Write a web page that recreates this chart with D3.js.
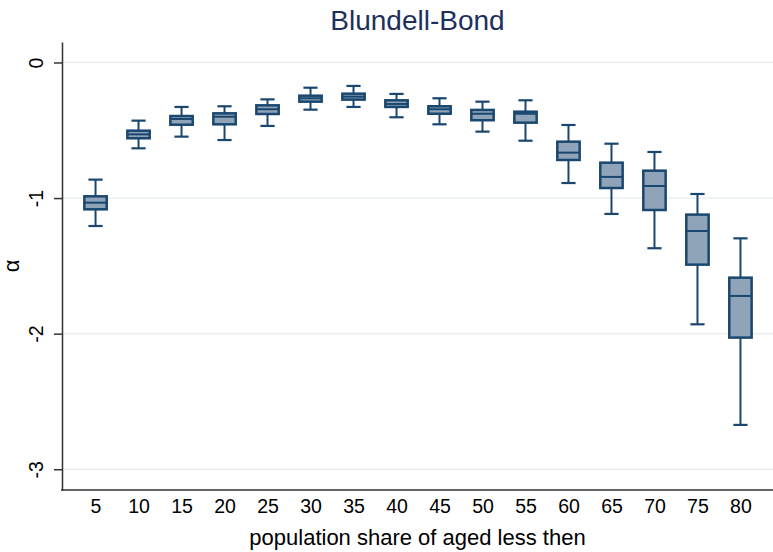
<!DOCTYPE html>
<html>
<head>
<meta charset="utf-8">
<script src="https://cdn.jsdelivr.net/npm/d3@7"></script>
<style>
  body { margin:0; background:#fff; }
  svg { display:block; font-family:"Liberation Sans", Arial, sans-serif; }
</style>
</head>
<body>
<svg id="chart" width="773" height="552"></svg>
<script>
// Data
var categories = [5, 10, 15, 20, 25, 30, 35, 40, 45, 50, 55, 60, 65, 70, 75, 80];
var whiskerHi = [-0.864, -0.429, -0.328, -0.323, -0.272, -0.186, -0.173, -0.232, -0.264, -0.289, -0.279, -0.461, -0.599, -0.660, -0.970, -1.297];
var q3        = [-0.987, -0.503, -0.395, -0.375, -0.316, -0.245, -0.230, -0.279, -0.323, -0.350, -0.363, -0.584, -0.739, -0.798, -1.122, -1.587];
var median    = [-1.034, -0.530, -0.417, -0.400, -0.345, -0.264, -0.252, -0.306, -0.345, -0.378, -0.378, -0.665, -0.844, -0.911, -1.243, -1.722];
var q1        = [-1.083, -0.559, -0.459, -0.456, -0.380, -0.289, -0.274, -0.328, -0.378, -0.426, -0.444, -0.719, -0.926, -1.088, -1.491, -2.029];
var whiskerLo = [-1.206, -0.633, -0.547, -0.572, -0.468, -0.348, -0.328, -0.404, -0.456, -0.510, -0.577, -0.889, -1.117, -1.370, -1.931, -2.673];
var yTicks = [0, -1, -2, -3];
var yDomain = [-3.153, 0.151];

var title = "Blundell-Bond";
var xTitle = "population share of aged less then";
var yTitle = "\u03b1";

// Dimensions
var dim = { left:62, right:774, top:42, bottom:490 };
var navy = "#1a476f";
var boxFill = "#8fa4b9";

var svg = d3.select("#chart");

var xScale = d3.scalePoint()
               .domain(categories)
               .range([dim.left, dim.right])
               .padding(0.78);
var yScale = d3.scaleLinear()
               .domain(yDomain)
               .range([dim.bottom, dim.top]);

var step = xScale.step();
var boxW = step * 0.52;
var capW = step * 0.33;

// gridlines
svg.append("g")
   .selectAll("line")
   .data(yTicks)
   .enter()
   .append("line")
   .attr("x1", dim.left)
   .attr("x2", 773)
   .attr("y1", function(d) { return yScale(d); })
   .attr("y2", function(d) { return yScale(d); })
   .attr("stroke", "#e9eff1")
   .attr("stroke-width", 1.5);

// y axis - plain hyphen for negatives, like the original
var yAxis = d3.axisLeft(yScale)
              .tickValues(yTicks)
              .tickFormat(function(d) { return String(d); })
              .tickSizeInner(8)
              .tickSizeOuter(0);
var gy = svg.append("g")
            .attr("transform", "translate(" + dim.left + ",0)")
            .call(yAxis);
gy.select(".domain").attr("stroke", "#333").attr("stroke-width", 1.5);
gy.selectAll(".tick line").attr("stroke", "#333").attr("stroke-width", 1.5);
gy.selectAll(".tick text")
  .attr("x", null).attr("dy", null)
  .attr("text-anchor", "middle")
  .attr("transform", "translate(-19,0) rotate(-90)")
  .style("font-size", "19.5px")
  .style("font-family", "Liberation Sans, Arial, sans-serif")
  .attr("fill", "#000");

// x axis
var xAxis = d3.axisBottom(xScale)
              .tickSize(0)
              .tickPadding(0);
var gx = svg.append("g")
            .attr("transform", "translate(0," + dim.bottom + ")")
            .call(xAxis);
gx.select(".domain").attr("d", "M" + (dim.left - 1) + ",0H773").attr("stroke", "#333").attr("stroke-width", 1.5);
gx.selectAll(".tick text")
  .attr("y", 23).attr("dy", null)
  .style("font-size", "19.5px")
  .style("font-family", "Liberation Sans, Arial, sans-serif")
  .attr("fill", "#000");

// boxes
var boxes = svg.append("g").attr("id", "boxes")
               .selectAll("g")
               .data(categories)
               .enter()
               .append("g")
               .attr("transform", function(d) { return "translate(" + xScale(d) + ",0)"; });

boxes.append("line")
     .attr("x1", 0).attr("x2", 0)
     .attr("y1", function(d, i) { return yScale(whiskerHi[i]); })
     .attr("y2", function(d, i) { return yScale(q3[i]); })
     .attr("stroke", navy).attr("stroke-width", 2);
boxes.append("line")
     .attr("x1", 0).attr("x2", 0)
     .attr("y1", function(d, i) { return yScale(q1[i]); })
     .attr("y2", function(d, i) { return yScale(whiskerLo[i]); })
     .attr("stroke", navy).attr("stroke-width", 2);
boxes.append("line")
     .attr("x1", -capW / 2).attr("x2", capW / 2)
     .attr("y1", function(d, i) { return yScale(whiskerHi[i]); })
     .attr("y2", function(d, i) { return yScale(whiskerHi[i]); })
     .attr("stroke", navy).attr("stroke-width", 2.2);
boxes.append("line")
     .attr("x1", -capW / 2).attr("x2", capW / 2)
     .attr("y1", function(d, i) { return yScale(whiskerLo[i]); })
     .attr("y2", function(d, i) { return yScale(whiskerLo[i]); })
     .attr("stroke", navy).attr("stroke-width", 2.2);
boxes.append("rect")
     .attr("x", -boxW / 2)
     .attr("width", boxW)
     .attr("y", function(d, i) { return yScale(q3[i]); })
     .attr("height", function(d, i) { return yScale(q1[i]) - yScale(q3[i]); })
     .attr("fill", boxFill)
     .attr("stroke", navy)
     .attr("stroke-width", 2.5);
boxes.append("line")
     .attr("x1", -boxW / 2).attr("x2", boxW / 2)
     .attr("y1", function(d, i) { return yScale(median[i]); })
     .attr("y2", function(d, i) { return yScale(median[i]); })
     .attr("stroke", navy).attr("stroke-width", 2);

// titles
svg.append("text")
   .attr("x", (dim.left + 773) / 2)
   .attr("y", 29.5)
   .attr("text-anchor", "middle")
   .attr("fill", "#1e2f5c")
   .style("font-size", "28px")
   .text(title);
svg.append("text")
   .attr("x", (dim.left + 773) / 2)
   .attr("y", 545)
   .attr("text-anchor", "middle")
   .attr("fill", "#000")
   .style("font-size", "22px")
   .text(xTitle);
svg.append("text")
   .attr("transform", "translate(19," + (dim.top + dim.bottom) / 2 + ") rotate(-90)")
   .attr("text-anchor", "middle")
   .attr("fill", "#000")
   .style("font-size", "22px")
   .text(yTitle);
</script>
</body>
</html>
